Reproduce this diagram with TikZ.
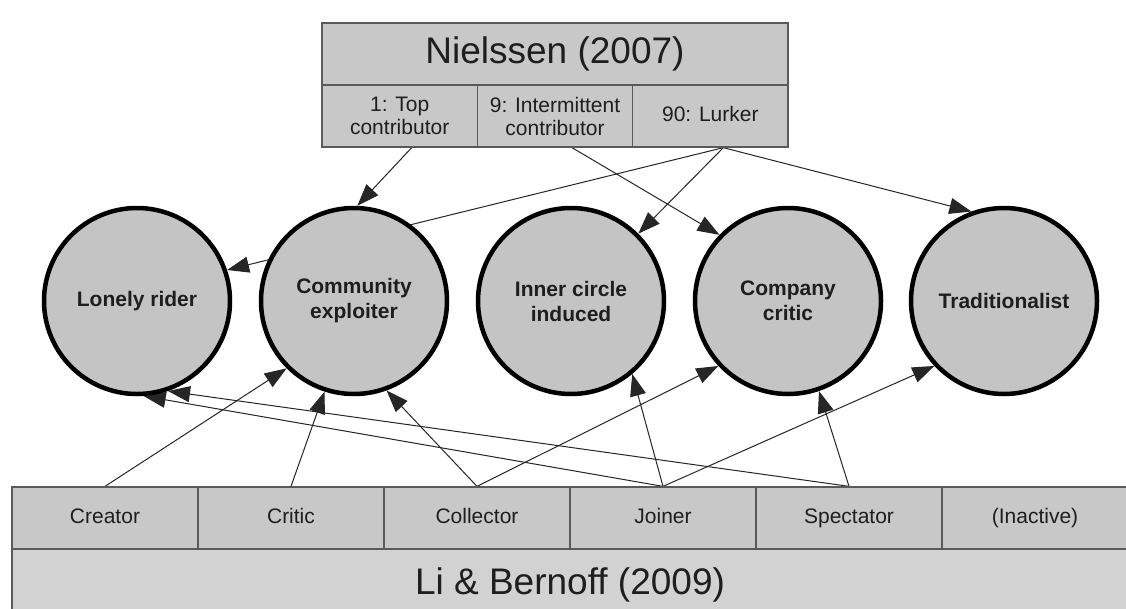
\documentclass[tikz,border=0pt]{standalone}
\usepackage{fontspec}
\setmainfont{Liberation Sans}
\usetikzlibrary{arrows.meta}
\definecolor{boxfill}{HTML}{C8C8C8}
\definecolor{titlefill}{HTML}{D2D2D2}
\definecolor{boxline}{HTML}{5A5A5A}
\definecolor{circfill}{HTML}{C4C4C4}
\definecolor{textcol}{HTML}{1E1E1E}
\pgfdeclarelayer{back}
\pgfsetlayers{back,main}
\begin{document}
\begin{tikzpicture}[x=1pt,y=-1pt,
  cellbox/.style={draw=boxline, line width=1.3pt, fill=boxfill, inner sep=0pt,
    minimum height=62pt, text=textcol, align=center,
    font=\fontsize{21}{23}\selectfont},
  onecell/.style={cellbox, text height=15pt, text depth=4.5pt},
  titlebox/.style={cellbox, font=\fontsize{37}{40}\selectfont},
  persona/.style={circle, draw=black, line width=4.5pt, fill=circfill,
    minimum size=186pt, inner sep=0pt, text=textcol, align=center,
    font=\fontsize{21}{25}\selectfont\bfseries},
  conn/.style={draw=black!85, line width=1pt,
    -{Triangle[length=22pt,width=16pt]}}
]
\useasboundingbox (0,0) rectangle (1126,608);

% Nielssen (2007): header and three participation groups
\node[titlebox, minimum width=466pt] (niel) at (555,54) {Nielssen (2007)};
\node[cellbox, minimum width=155.33pt] (ntop) at (399.67,116) {1: Top\\contributor};
\node[cellbox, minimum width=155.33pt] (nint) at (555,116) {9: Intermittent\\contributor};
\node[onecell, minimum width=155.33pt] (nlurk) at (710.33,116) {90: Lurker};

% Li & Bernoff (2009): six groups and header
\node[onecell, minimum width=186pt] (creator) at (105,518) {Creator};
\node[onecell, minimum width=186pt] (critic) at (291,518) {Critic};
\node[onecell, minimum width=186pt] (collector) at (477,518) {Collector};
\node[onecell, minimum width=186pt] (joiner) at (663,518) {Joiner};
\node[onecell, minimum width=186pt] (spectator) at (849,518) {Spectator};
\node[onecell, minimum width=186pt] (inactive) at (1035,518) {(Inactive)};
\node[titlebox, fill=titlefill, minimum width=1116pt, minimum height=72pt] (li)
  at (570,585) {Li \& Bernoff (2009)};

% User types
\node[persona] (lr) at (137,301) {Lonely rider};
\node[persona] (ce) at (354,301) {Community\\exploiter};
\node[persona] (ic) at (571,301) {Inner circle\\induced};
\node[persona] (cc) at (788,301) {Company\\critic};
\node[persona] (tr) at (1004,301) {Traditionalist};

% Mappings, drawn behind the circles
\begin{pgfonlayer}{back}
\fill[white] (0,0) rectangle (1126,608);
\coordinate (ntopout) at ([xshift=12pt]ntop.south);
\coordinate (nintout) at ([xshift=17pt]nint.south);
\coordinate (nlurkout) at ([xshift=13pt]nlurk.south);
\draw[conn] (ntopout) -- (ce.88);
\draw[conn] (nintout) -- (cc.136);
\draw[conn] (nlurkout) -- (lr.19);
\draw[conn] (nlurkout) -- (ic.45);
\draw[conn] (nlurkout) -- (tr.110);
\draw[conn] (creator.north) -- (ce.-135);
\draw[conn] (critic.north) -- (ce.-108);
\draw[conn] (collector.north) -- (ce.-70);
\draw[conn] (collector.north) -- (cc.-137);
\draw[conn] (joiner.north) -- (ic.-50);
\draw[conn] (joiner.north) -- (lr.-86);
\draw[conn] (joiner.north) -- (tr.-137);
\draw[conn] (spectator.north) -- (lr.-71);
\draw[conn] (spectator.north) -- (cc.-71);
\end{pgfonlayer}
\end{tikzpicture}
\end{document}
